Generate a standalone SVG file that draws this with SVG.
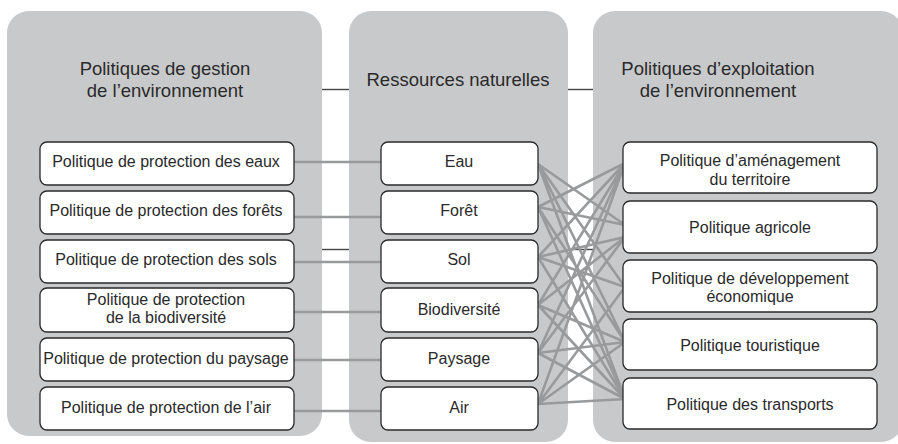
<svg xmlns="http://www.w3.org/2000/svg" width="898" height="444" viewBox="0 0 898 444">
<style>
.panel{fill:#c8c9cb}
.box{fill:#fff;stroke:#2a2a2a;stroke-width:1.3}
.t{font-family:"Liberation Sans",Arial,sans-serif;font-size:16px;fill:#2a2a2a;text-anchor:middle}
.h{font-family:"Liberation Sans",Arial,sans-serif;font-size:18.5px;fill:#2a2a2a;text-anchor:middle}
.g{stroke:#999a9c;stroke-width:2.6;fill:none}
.k{stroke:#444;stroke-width:1.4;fill:none}
</style>
<rect x="0" y="0" width="898" height="444" fill="#fff"/>
<g id="panels">
<rect class="panel" x="7" y="11" width="315" height="425" rx="22"/>
<rect class="panel" x="349" y="11" width="219" height="431" rx="22"/>
<rect class="panel" x="593" y="11" width="310" height="431" rx="22"/>
</g>
<g id="connectors">
<line class="k" x1="322" y1="89.5" x2="349" y2="89.5"/>
<line class="k" x1="568" y1="89.5" x2="593" y2="89.5"/>
<line class="k" x1="322" y1="249.5" x2="349" y2="249.5"/>
<line class="k" x1="568" y1="249.5" x2="593" y2="249.5"/>
<line class="g" x1="294" y1="162" x2="381" y2="162"/>
<line class="g" x1="294" y1="217" x2="381" y2="217"/>
<line class="g" x1="294" y1="262" x2="381" y2="262"/>
<line class="g" x1="294" y1="312" x2="381" y2="312"/>
<line class="g" x1="294" y1="360" x2="381" y2="360"/>
<line class="g" x1="294" y1="411" x2="381" y2="411"/>
<path class="g" d="M538 164L625 225M538 164L625 342M538 164L625 399M538 164L625 287
M538 207L625 163M538 207L625 225M538 207L625 342M538 207L625 399
M538 257L625 163M538 257L625 237M538 257L625 287M538 257L625 399
M538 305L625 163M538 305L625 237M538 305L625 342M538 305L625 399
M538 353L625 163M538 353L625 237M538 353L625 342M538 353L625 399
M538 404L625 163M538 404L625 287M538 404L625 342M538 404L625 399"/>
</g>
<g id="title-gestion"><text class="h" x="165" y="75">Politiques de gestion</text><text class="h" x="165" y="97">de l’environnement</text></g>
<g id="title-ressources"><text class="h" x="458" y="86">Ressources naturelles</text></g>
<g id="title-exploitation"><text class="h" x="718" y="75">Politiques d’exploitation</text><text class="h" x="718" y="97">de l’environnement</text></g>
<g id="g1"><rect class="box" x="40" y="142" width="254" height="43" rx="7"/><text class="t" x="166" y="167">Politique de protection des eaux</text></g>
<g id="g2"><rect class="box" x="40" y="191" width="254" height="43" rx="7"/><text class="t" x="166" y="216">Politique de protection des forêts</text></g>
<g id="g3"><rect class="box" x="40" y="240" width="254" height="43" rx="7"/><text class="t" x="166" y="265">Politique de protection des sols</text></g>
<g id="g4"><rect class="box" x="40" y="288" width="254" height="44" rx="7"/><text class="t" x="166" y="305">Politique de protection</text><text class="t" x="166" y="323">de la biodiversité</text></g>
<g id="g5"><rect class="box" x="40" y="338" width="254" height="43" rx="7"/><text class="t" x="166" y="364">Politique de protection du paysage</text></g>
<g id="g6"><rect class="box" x="40" y="387" width="254" height="43" rx="7"/><text class="t" x="166" y="413">Politique de protection de l’air</text></g>
<g id="r1"><rect class="box" x="381" y="142" width="157" height="43" rx="7"/><text class="t" x="459" y="167">Eau</text></g>
<g id="r2"><rect class="box" x="381" y="191" width="157" height="43" rx="7"/><text class="t" x="459" y="216">Forêt</text></g>
<g id="r3"><rect class="box" x="381" y="240" width="157" height="43" rx="7"/><text class="t" x="459" y="265">Sol</text></g>
<g id="r4"><rect class="box" x="381" y="288" width="157" height="44" rx="7"/><text class="t" x="459" y="315">Biodiversité</text></g>
<g id="r5"><rect class="box" x="381" y="338" width="157" height="43" rx="7"/><text class="t" x="459" y="364">Paysage</text></g>
<g id="r6"><rect class="box" x="381" y="387" width="157" height="43" rx="7"/><text class="t" x="459" y="413">Air</text></g>
<g id="e1"><rect class="box" x="623" y="142" width="254" height="51" rx="7"/><text class="t" x="750" y="166">Politique d’aménagement</text><text class="t" x="750" y="185">du territoire</text></g>
<g id="e2"><rect class="box" x="623" y="201" width="254" height="52" rx="7"/><text class="t" x="750" y="233">Politique agricole</text></g>
<g id="e3"><rect class="box" x="623" y="260" width="254" height="52" rx="7"/><text class="t" x="750" y="283.5">Politique de développement</text><text class="t" x="750" y="302">économique</text></g>
<g id="e4"><rect class="box" x="623" y="319" width="254" height="51" rx="7"/><text class="t" x="750" y="351">Politique touristique</text></g>
<g id="e5"><rect class="box" x="623" y="378" width="254" height="51" rx="7"/><text class="t" x="750" y="410">Politique des transports</text></g>
</svg>
